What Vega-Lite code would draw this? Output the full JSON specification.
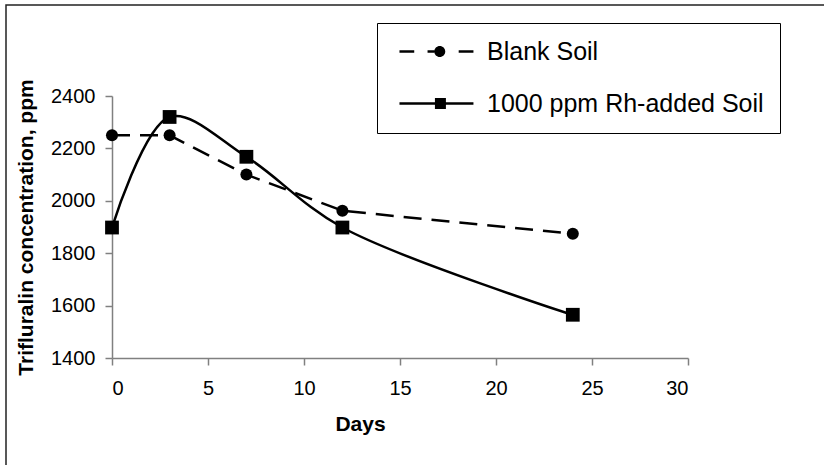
{
  "$schema": "https://vega.github.io/schema/vega-lite/v6.json",
  "autosize": "none",
  "width": 818,
  "height": 460,
  "padding": {"left": 6, "top": 5, "right": 0, "bottom": 0},
  "background": "white",
  "config": {
    "font": "Liberation Sans",
    "view": {"stroke": "#222222", "strokeWidth": 1.5, "strokeDash": [818, 1278, 460]},
    "axis": {"grid": false, "domainColor": "#808080", "domainWidth": 1.5, "tickColor": "#808080", "tickWidth": 1.5, "tickSize": 7, "labelColor": "black", "labelFont": "Liberation Sans", "labelFontSize": 20, "titleFont": "Liberation Sans", "titleFontSize": 21, "titleFontWeight": "bold", "titleColor": "black"}
  },
  "data": {
    "values": [
      {"series": "Blank Soil", "day": 0, "value": 2250},
      {"series": "Blank Soil", "day": 3, "value": 2250},
      {"series": "Blank Soil", "day": 7, "value": 2100},
      {"series": "Blank Soil", "day": 12, "value": 1962},
      {"series": "Blank Soil", "day": 24, "value": 1874},
      {"series": "1000 ppm Rh-added Soil", "day": 0, "value": 1898},
      {"series": "1000 ppm Rh-added Soil", "day": 3, "value": 2320},
      {"series": "1000 ppm Rh-added Soil", "day": 7, "value": 2168},
      {"series": "1000 ppm Rh-added Soil", "day": 12, "value": 1898},
      {"series": "1000 ppm Rh-added Soil", "day": 24, "value": 1565}
    ]
  },
  "encoding": {
    "x": {
      "field": "day", "type": "quantitative",
      "scale": {"domain": [0, 30], "range": [106, 682], "nice": false, "zero": false},
      "axis": {"title": "Days", "values": [0, 5, 10, 15, 20, 25, 30], "format": "d", "offset": -107, "labelPadding": 13, "titlePadding": 15, "titleX": 354}
    },
    "y": {
      "field": "value", "type": "quantitative",
      "scale": {"domain": [1400, 2400], "range": [353, 91], "nice": false, "zero": false},
      "axis": {"title": "Trifluralin concentration, ppm", "values": [1400, 1600, 1800, 2000, 2200, 2400], "format": "d", "offset": -106, "labelPadding": 10, "titlePadding": 14}
    }
  },
  "layer": [
    {
      "transform": [{"filter": "datum.series === 'Blank Soil'"}],
      "mark": {"type": "line", "color": "black", "strokeWidth": 2.5, "strokeDash": [18, 10]}
    },
    {
      "transform": [{"filter": "datum.series !== 'Blank Soil'"}],
      "mark": {"type": "line", "color": "black", "strokeWidth": 2.5, "interpolate": "catmull-rom"}
    },
    {
      "transform": [{"filter": "datum.series === 'Blank Soil'"}],
      "mark": {"type": "point", "shape": "circle", "filled": true, "color": "black", "opacity": 1, "size": 145}
    },
    {
      "transform": [{"filter": "datum.series !== 'Blank Soil'"}],
      "mark": {"type": "point", "shape": "square", "filled": true, "color": "black", "opacity": 1, "size": 190}
    },
    {
      "mark": {"type": "point", "filled": true, "color": "black", "opacity": 0},
      "encoding": {
        "shape": {
          "field": "series", "type": "nominal",
          "scale": {
            "domain": ["Blank Soil", "1000 ppm Rh-added Soil"],
            "range": [
              "M-0.67,-0.14H0.97V0.14H-0.67ZM2.45,-0.14H3.2V0.14H2.45ZM5.91,-0.14H7.55V0.14H5.91ZM3.2,0A0.61,0.61 0 1,1 4.42,0A0.61,0.61 0 1,1 3.2,0Z",
              "M-0.67,-0.14H7.55V0.14H-0.67ZM3.27,-0.61H4.49V0.61H3.27Z"
            ]
          },
          "legend": {
            "title": null, "orient": "none", "legendX": 371, "legendY": 18,
            "padding": 16, "labelOffset": 69, "labelFontSize": 25, "labelFont": "Liberation Sans", "labelColor": "black", "labelLimit": 0,
            "symbolSize": 324, "symbolStrokeWidth": 0, "symbolFillColor": "black", "symbolOpacity": 1,
            "strokeColor": "black", "fillColor": "white", "rowPadding": 26
          }
        }
      }
    }
  ]
}
